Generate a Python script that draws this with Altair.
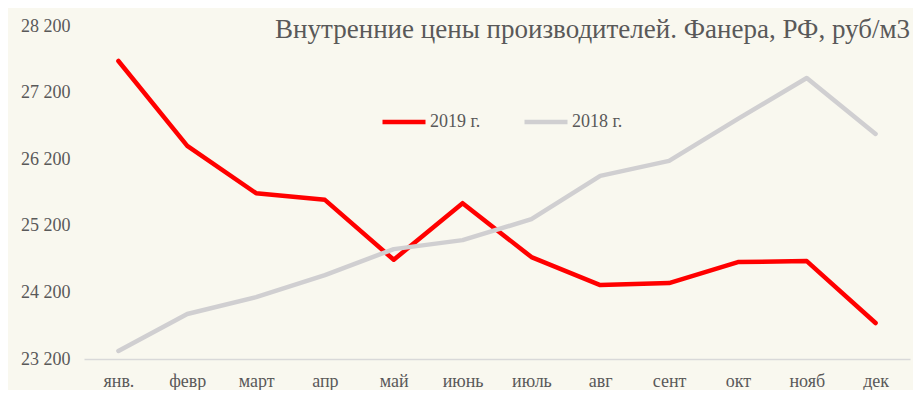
import altair as alt
import pandas as pd

months = ["янв.", "февр", "март", "апр", "май", "июнь", "июль", "авг", "сент", "окт", "нояб", "дек"]
y2019 = [27675, 26400, 25690, 25590, 24690, 25540, 24730, 24310, 24340, 24655, 24670, 23740]
y2018 = [23320, 23875, 24130, 24460, 24850, 24985, 25300, 25950, 26175, 26805, 27420, 26580]
series = ["2019 г.", "2018 г."]
y_ticks = [23200, 24200, 25200, 26200, 27200, 28200]

rows = []
for s, vals in zip(series, [y2019, y2018]):
    for m, v in zip(months, vals):
        rows.append({"month": m, "value": v, "series": s})
df = pd.DataFrame(rows)

FONT = "Liberation Serif"
TXT = "#595959"

chart = alt.Chart(df).mark_line(strokeWidth=4.5, strokeCap="round", strokeJoin="round").encode(
    x=alt.X("month:N", sort=months, scale=alt.Scale(paddingInner=0, paddingOuter=0), axis=alt.Axis(
        title=None, labelAngle=0, ticks=False, domainColor="#D9D9D9", domainWidth=1.5,
        labelFont=FONT, labelFontSize=18, labelColor=TXT, labelPadding=13)),
    y=alt.Y("value:Q", scale=alt.Scale(domain=[23200, 28200], zero=False, nice=False), axis=alt.Axis(
        title=None, values=y_ticks, domain=False, ticks=False, grid=False,
        labelExpr="replace(format(datum.value, ','), ',', ' ')",
        labelFont=FONT, labelFontSize=18, labelColor=TXT, labelPadding=14)),
    color=alt.Color("series:N", scale=alt.Scale(domain=series, range=["#FF0000", "#D0CFD1"]),
        legend=alt.Legend(title=None, orient="none", legendX=296, legendY=72, direction="horizontal",
            symbolType="stroke", symbolSize=1849, symbolStrokeWidth=4.5, columnPadding=34,
            labelFont=FONT, labelFontSize=18, labelColor=TXT, labelOffset=2)),
    detail="series:N",
).properties(
    width=826, height=333,
    autosize=alt.AutoSizeParams(type="none"),
    padding={"left": 76, "top": 18, "right": 3, "bottom": 31},
    background="#F9F8EF",
    title=alt.TitleParams("Внутренние цены производителей. Фанера, РФ, руб/м3", anchor="end",
        font=FONT, fontSize=27, fontWeight="normal", color=TXT, offset=-27),
).configure_view(stroke=None)

chart.save("out.html", embed_options={"renderer": "svg", "actions": False})
